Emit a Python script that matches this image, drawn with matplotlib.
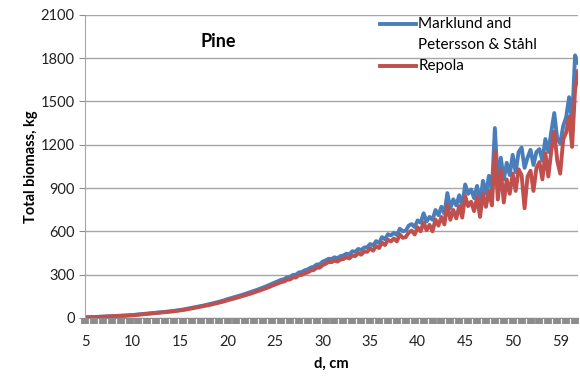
import numpy as np
import matplotlib
matplotlib.use("Agg")
import matplotlib.pyplot as plt

plt.rcParams['font.family'] = ['Lato', 'DejaVu Sans']

# --- data ---
# total biomass per tree, kg, trees ordered by diameter
marklund = [
    4, 4, 5, 6, 7, 8, 9, 10, 11, 12, 13, 14, 15, 16, 17, 19, 20,
    22, 24, 26, 28, 30, 32, 34, 36, 38, 40, 42, 44, 46, 49, 52, 55,
    58, 62, 66, 70, 74, 78, 82, 86, 91, 96, 101, 106, 111, 117, 123, 130,
    136, 142, 148, 154, 160, 167, 174, 181, 188, 195, 203, 211, 219, 228, 237, 246,
    254, 264, 268, 281, 284, 298, 299, 315, 318, 330, 336, 349, 354, 370, 371, 390,
    398, 410, 408, 420, 414, 428, 432, 445, 440, 462,
    458, 478, 470, 488, 490, 512, 502, 532, 520, 560,
    545, 580, 572, 590, 575, 618, 600, 605, 640, 650,
    630, 676, 660, 725, 668, 700, 680, 748, 712, 770,
    722, 865, 760, 822, 780, 850, 775, 925, 860, 890,
    830, 915, 800, 950, 860, 985, 880, 1316, 930, 1110,
    960, 1075, 990, 1130, 1010, 1150, 1180, 1040, 1110, 1165,
    1060, 1150, 1170, 1090, 1240, 1150, 1290, 1420, 1240, 1210,
    1330, 1390, 1530, 1360, 1820, 1770,
]
repola = [
    4, 4, 5, 5, 6, 7, 8, 9, 10, 11, 12, 13, 14, 15, 16, 17, 18,
    20, 22, 24, 26, 28, 30, 32, 34, 36, 38, 40, 42, 44, 46, 49, 52,
    55, 58, 62, 66, 70, 74, 78, 82, 86, 90, 95, 100, 105, 110, 116, 122,
    128, 133, 139, 145, 151, 157, 164, 170, 177, 184, 191, 199, 206, 214, 223, 231,
    239, 248, 252, 264, 266, 280, 280, 296, 298, 310, 315, 328, 332, 347, 348, 366,
    375, 388, 386, 398, 390, 404, 408, 420, 412, 432,
    428, 450, 438, 460, 458, 482, 466, 498, 484, 522,
    505, 542, 530, 550, 530, 578, 555, 560, 592, 605,
    578, 628, 600, 662, 608, 645, 600, 682, 640, 700,
    648, 785, 680, 748, 690, 775, 695, 845, 775, 805,
    740, 835, 700, 860, 770, 880, 780, 1150, 820, 1025,
    800, 960, 860, 1000, 880, 1030, 990, 760, 980, 1020,
    880, 1040, 1080, 960, 1140, 980, 1160, 1290, 1090, 1000,
    1235, 1285, 1395, 1185, 1580, 1710,
]
d_labels = ['5', '10', '15', '20', '25', '30', '35', '40', '45', '50', '59']
label_step = 16
y_ticks = [0, 300, 600, 900, 1200, 1500, 1800, 2100]

blue = '#4A7EBB'
red = '#C0504D'
grey = '#8C8C8C'

fig = plt.figure(figsize=(5.8, 3.83), dpi=100)
ax = fig.add_axes([0.1466, 0.170, 0.850, 0.791])

x = np.arange(len(marklund))
ax.plot(x, marklund, color=blue, lw=2.8, solid_joinstyle='round')
ax.plot(x, repola, color=red, lw=2.8, solid_joinstyle='round')

ax.set_xlim(0, len(marklund) - 1)
ax.set_ylim(0, 2100)
ax.set_yticks(y_ticks)
ax.yaxis.grid(True, color='#A6A6A6', lw=1)
ax.set_axisbelow(True)

ax.xaxis.remove_overlapping_locs = False
ax.set_xticks(np.arange(len(d_labels)) * label_step)
ax.set_xticklabels(d_labels)
ax.set_xticks(np.arange(0, len(marklund), 3), minor=True)
ax.tick_params(axis='x', which='major', length=0, pad=12, labelsize=10.5, colors='#222222')
ax.tick_params(axis='x', which='minor', length=4.5, width=5.6, color=grey, direction='out')
ax.tick_params(axis='y', length=4, color=grey, labelsize=10.5, labelcolor='#222222')

for s in ['top', 'right']:
    ax.spines[s].set_visible(False)
ax.spines['left'].set_color('#A6A6A6')
ax.spines['bottom'].set_color(grey)

ax.set_xlabel('d, cm', fontsize=10.5, fontweight='bold', labelpad=6)
ax.set_ylabel('Total biomass, kg', fontsize=10.5, fontweight='bold', labelpad=2)

ax.text(0.27, 0.911, 'Pine', transform=ax.transAxes, fontsize=13,
        fontweight='bold', ha='center', va='center')

# legend drawn by hand so the blue key sits at the first text line
ax.plot([0.598, 0.671], [0.970, 0.970], color=blue, lw=2.8, transform=ax.transAxes, clip_on=False)
ax.plot([0.598, 0.671], [0.832, 0.832], color=red, lw=2.8, transform=ax.transAxes, clip_on=False)
ax.text(0.676, 0.970, 'Marklund and', transform=ax.transAxes, fontsize=11, va='center')
ax.text(0.676, 0.900, 'Petersson & Ståhl', transform=ax.transAxes, fontsize=11, va='center')
ax.text(0.676, 0.832, 'Repola', transform=ax.transAxes, fontsize=11, va='center')

fig.savefig('out.png', dpi=100)
